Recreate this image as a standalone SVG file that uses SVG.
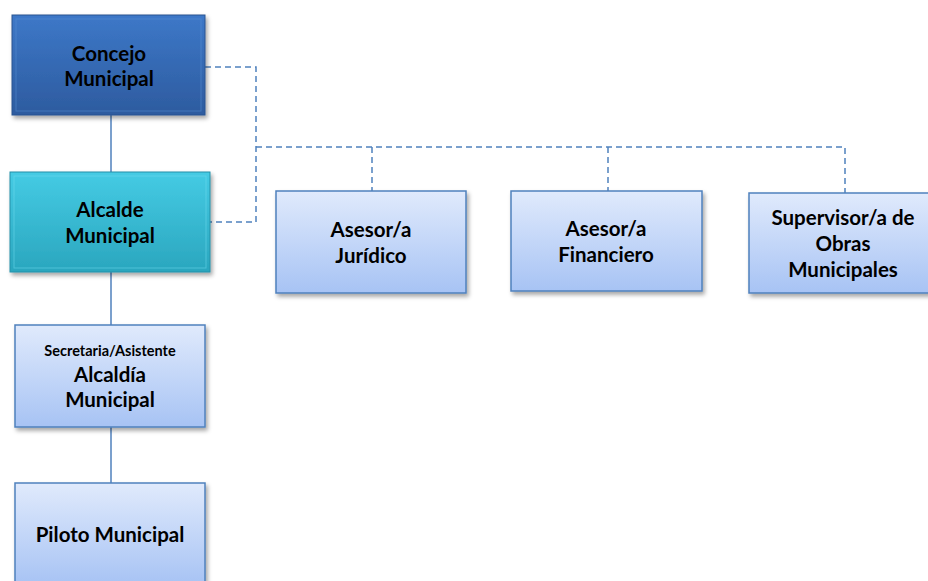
<svg xmlns="http://www.w3.org/2000/svg" width="928" height="581" viewBox="0 0 928 581">
<defs>
<linearGradient id="gLight" x1="0" y1="0" x2="0" y2="1"><stop offset="0" stop-color="#e0eafc"/><stop offset="1" stop-color="#a7c3f4"/></linearGradient>
<linearGradient id="gDark" x1="0" y1="0" x2="0" y2="1"><stop offset="0" stop-color="#3d78c8"/><stop offset="1" stop-color="#2d5b9f"/></linearGradient>
<linearGradient id="gTeal" x1="0" y1="0" x2="0" y2="1"><stop offset="0" stop-color="#45cbe4"/><stop offset="1" stop-color="#2aa6be"/></linearGradient>
<filter id="sh" x="-10%" y="-10%" width="130%" height="130%"><feDropShadow dx="2" dy="3" stdDeviation="2" flood-color="#000" flood-opacity="0.35"/></filter>
</defs>
<style>
.t{font-family:Lato,"Liberation Sans",sans-serif;font-weight:bold;font-size:20.5px;fill:#000;text-anchor:middle}
.s{font-size:14.5px}
.light{fill:url(#gLight);stroke:#4f81bd;stroke-width:1.5;filter:url(#sh)}
.solid{stroke:#4f81bd;stroke-width:1.5;fill:none}
.dash{stroke:#4f81bd;stroke-width:1.5;fill:none;stroke-dasharray:6 4}
</style>
<rect width="928" height="581" fill="#fff"/>
<g id="connectors">
<line class="solid" x1="111" y1="115" x2="111" y2="172"/>
<line class="solid" x1="111" y1="272" x2="111" y2="325"/>
<line class="solid" x1="111" y1="427" x2="111" y2="483"/>
<polyline class="dash" points="205,67 256,67 256,222 210,222"/>
<polyline class="dash" points="256,147 845,147 845,193"/>
<line class="dash" x1="372" y1="147" x2="372" y2="191"/>
<line class="dash" x1="608" y1="147" x2="608" y2="191"/>
</g>
<g id="concejo">
<rect x="12" y="15" width="193" height="100" fill="url(#gDark)" stroke="#2a5590" stroke-width="1" filter="url(#sh)"/>
<rect x="16" y="19" width="185" height="92" fill="none" stroke="#5a8fd6" stroke-width="1" opacity="0.5"/>
<text class="t" x="109" y="61">Concejo</text>
<text class="t" x="109" y="86">Municipal</text>
</g>
<g id="alcalde">
<rect x="10" y="172" width="200" height="100" fill="url(#gTeal)" stroke="#2590a8" stroke-width="1" filter="url(#sh)"/>
<rect x="14" y="176" width="192" height="92" fill="none" stroke="#6fdcf0" stroke-width="1" opacity="0.5"/>
<text class="t" x="110" y="217">Alcalde</text>
<text class="t" x="110" y="243">Municipal</text>
</g>
<g id="secretaria">
<rect class="light" x="15" y="325" width="190" height="102"/>
<text class="t s" x="110" y="356">Secretaria/Asistente</text>
<text class="t" x="110" y="382">Alcaldía</text>
<text class="t" x="110" y="407">Municipal</text>
</g>
<g id="piloto">
<rect class="light" x="15" y="483" width="190" height="102"/>
<text class="t" x="110" y="542">Piloto Municipal</text>
</g>
<g id="juridico">
<rect class="light" x="276" y="191" width="190" height="102"/>
<text class="t" x="371" y="237">Asesor/a</text>
<text class="t" x="371" y="263">Jurídico</text>
</g>
<g id="financiero">
<rect class="light" x="511" y="191" width="191" height="100"/>
<text class="t" x="606" y="236">Asesor/a</text>
<text class="t" x="606" y="262">Financiero</text>
</g>
<g id="supervisor">
<rect class="light" x="749" y="193" width="190" height="100"/>
<text class="t" x="843" y="225">Supervisor/a de</text>
<text class="t" x="843" y="251">Obras</text>
<text class="t" x="843" y="277">Municipales</text>
</g>
</svg>
